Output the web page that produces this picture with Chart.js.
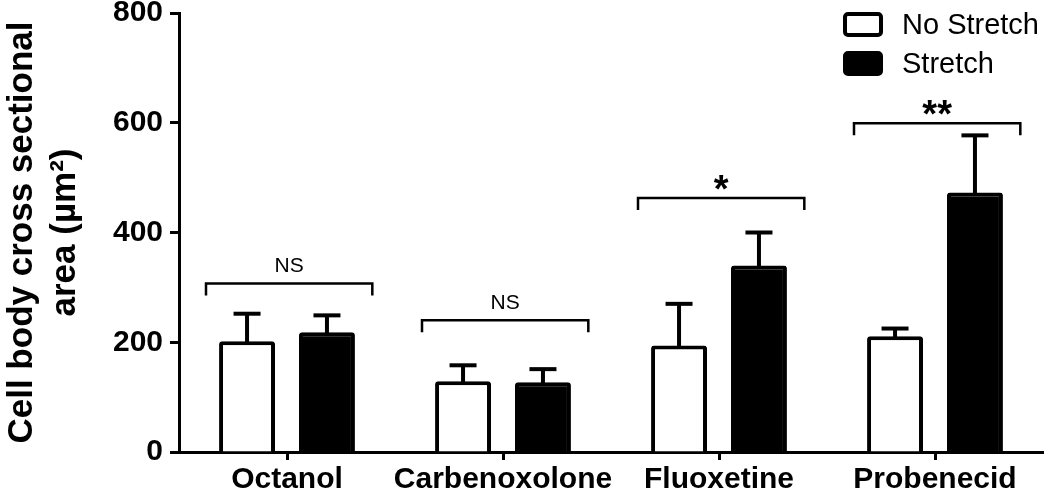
<!DOCTYPE html>
<html>
<head>
<meta charset="utf-8">
<script src="https://cdn.jsdelivr.net/npm/chart.js@4/dist/chart.umd.min.js"></script>
<style>
html,body{margin:0;padding:0;background:#fff;}
#wrap{width:1050px;height:496px;position:relative;}
</style>
</head>
<body>
<div id="wrap"><canvas id="c" width="1050" height="496"></canvas></div>
<script>
const categories = ['Octanol', 'Carbenoxolone', 'Fluoxetine', 'Probenecid'];
const seriesNames = ['No Stretch', 'Stretch'];
const noStretch = [202, 129, 194, 211];
const stretch = [218, 127, 340, 473];
const noStretchErr = [50, 29, 76, 14];
const stretchErr = [31, 24, 60, 104];
const bracketLevels = [307, 240, 463, 599];
const bracketLabels = ['NS', 'NS', '*', '**'];
const yTicks = [0, 200, 400, 600, 800];

const FONT = "'Liberation Sans', Arial, sans-serif";
const errors = [noStretchErr, stretchErr];

const errorBarPlugin = {
  id: 'errorBars',
  afterDatasetsDraw(chart) {
    const ctx = chart.ctx;
    const y = chart.scales.y;
    ctx.save();
    ctx.strokeStyle = '#000';
    ctx.lineWidth = 4;
    ctx.lineCap = 'butt';
    chart.data.datasets.forEach((ds, i) => {
      const meta = chart.getDatasetMeta(i);
      meta.data.forEach((el, j) => {
        const v = ds.data[j];
        const top = y.getPixelForValue(v + errors[i][j]);
        const base = el.y + 2;
        ctx.beginPath();
        ctx.moveTo(el.x, base);
        ctx.lineTo(el.x, top);
        ctx.stroke();
        ctx.beginPath();
        ctx.moveTo(el.x - 13.5, top);
        ctx.lineTo(el.x + 13.5, top);
        ctx.stroke();
      });
    });
    ctx.restore();
  }
};

const bracketPlugin = {
  id: 'brackets',
  afterDatasetsDraw(chart) {
    const ctx = chart.ctx;
    const xs = chart.scales.x, ys = chart.scales.y;
    const catW = (xs.right - xs.left) / categories.length;
    ctx.save();
    ctx.strokeStyle = '#000';
    ctx.fillStyle = '#000';
    ctx.lineWidth = 2.5;
    categories.forEach((c, j) => {
      const cx = xs.getPixelForValue(j) + catW * 0.01;
      const h = catW * 0.385;
      const yy = ys.getPixelForValue(bracketLevels[j]);
      ctx.beginPath();
      ctx.moveTo(cx - h, yy + 12);
      ctx.lineTo(cx - h, yy);
      ctx.lineTo(cx + h, yy);
      ctx.lineTo(cx + h, yy + 12);
      ctx.stroke();
      const lab = bracketLabels[j];
      ctx.textAlign = 'center';
      if (lab === 'NS') {
        ctx.font = '21px ' + FONT;
        ctx.textBaseline = 'middle';
        ctx.fillText(lab, cx, yy - 17);
      } else {
        ctx.font = 'bold 38px ' + FONT;
        ctx.textBaseline = 'alphabetic';
        ctx.fillText(lab, cx, yy + 4);
      }
    });
    ctx.restore();
  }
};

const legendPlugin = {
  id: 'customLegend',
  afterDraw(chart) {
    const ctx = chart.ctx;
    ctx.save();
    chart.data.datasets.forEach((ds, i) => {
      const bx = 843, by = 12 + i * 39, bw = 40, bh = 25;
      ctx.beginPath();
      ctx.roundRect(bx + 2, by + 2, bw - 4, bh - 4, 3);
      ctx.fillStyle = ds.backgroundColor;
      ctx.fill();
      ctx.lineWidth = 4;
      ctx.strokeStyle = '#000';
      ctx.stroke();
      ctx.fillStyle = '#000';
      ctx.font = '29px ' + FONT;
      ctx.textAlign = 'left';
      ctx.textBaseline = 'middle';
      ctx.fillText(ds.label, 902, by + bh / 2 + 1);
    });
    ctx.restore();
  }
};

new Chart(document.getElementById('c'), {
  type: 'bar',
  data: {
    labels: categories,
    datasets: [
      {
        label: seriesNames[0],
        data: noStretch,
        backgroundColor: '#ffffff',
        borderColor: '#000000',
        borderWidth: 4,
        borderRadius: 3,
        borderSkipped: 'start',
        categoryPercentage: 0.74,
        barPercentage: 0.7
      },
      {
        label: seriesNames[1],
        data: stretch,
        backgroundColor: '#000000',
        borderColor: '#000000',
        borderWidth: 4,
        borderRadius: 3,
        borderSkipped: 'start',
        categoryPercentage: 0.74,
        barPercentage: 0.7
      }
    ]
  },
  options: {
    responsive: false,
    animation: false,
    devicePixelRatio: 1,
    layout: { padding: { left: 0, right: 7, top: 0, bottom: 0 } },
    plugins: {
      legend: { display: false },
      tooltip: { enabled: false }
    },
    scales: {
      x: {
        offset: true,
        grid: {
          offset: false,
          drawOnChartArea: false,
          drawTicks: true,
          tickLength: 8,
          tickWidth: 3,
          tickColor: '#000'
        },
        border: { display: true, color: '#000', width: 3 },
        ticks: {
          color: '#000',
          padding: 2,
          maxRotation: 0,
          autoSkip: false,
          font: { family: FONT, size: 30, weight: 'bold', lineHeight: 1.2 }
        },
        afterFit(scale) { scale.height = 44; }
      },
      y: {
        min: 0,
        max: 800,
        afterBuildTicks(scale) { scale.ticks = yTicks.map(v => ({ value: v })); },
        grid: {
          drawOnChartArea: false,
          drawTicks: true,
          tickLength: 9,
          tickWidth: 3,
          tickColor: '#000'
        },
        border: { display: true, color: '#000', width: 3 },
        ticks: {
          color: '#000',
          padding: 7,
          font: { family: FONT, size: 30, weight: 'bold', lineHeight: 0.4 }
        },
        title: {
          display: true,
          text: ['Cell body cross sectional', 'area (µm²)'],
          color: '#000',
          padding: { top: 0, bottom: 0 },
          font: { family: FONT, size: 35, weight: 'bold', lineHeight: 1.25 }
        },
        afterFit(scale) { scale.width = 179; }
      }
    }
  },
  plugins: [errorBarPlugin, bracketPlugin, legendPlugin]
});
</script>
</body>
</html>
